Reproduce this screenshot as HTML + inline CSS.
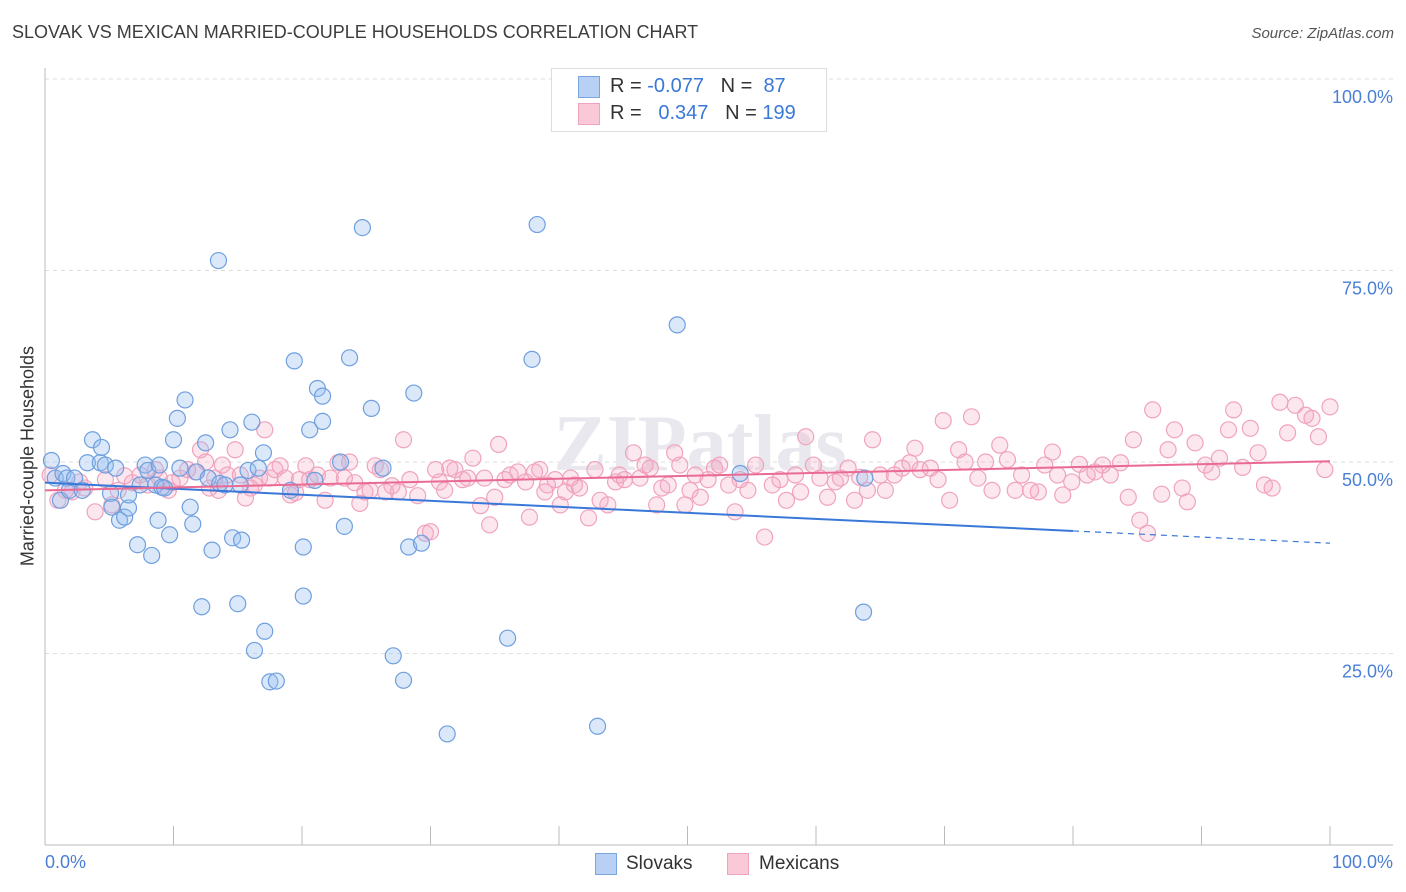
<!DOCTYPE html>
<html><head><meta charset="utf-8"><style>
body{margin:0;width:1406px;height:892px;background:#fff;font-family:"Liberation Sans",sans-serif;overflow:hidden;position:relative}
.t{position:absolute;white-space:nowrap}
</style></head><body>
<div class="t" style="left:12px;top:22px;font-size:18px;color:#3d3d3d">SLOVAK VS MEXICAN MARRIED-COUPLE HOUSEHOLDS CORRELATION CHART</div>
<div class="t" style="right:12px;top:25px;font-size:15px;color:#555;font-style:italic">Source: ZipAtlas.com</div>
<svg id="chart" width="1406" height="892" style="position:absolute;left:0;top:0"></svg>
<script>
const blueX=[0.5,0.8,1.2,1.4,1.7,1.9,2.3,2.9,3.3,3.7,4.3,4.4,4.7,5.1,5.2,5.5,5.8,6.2,6.5,7.2,7.4,7.8,8.0,8.3,8.6,8.8,9.1,9.3,9.7,10.0,10.3,10.5,10.9,11.3,11.5,11.8,12.2,12.5,12.7,13.0,13.5,13.6,14.0,14.4,14.6,15.0,15.3,15.8,16.1,16.3,16.6,17.0,17.1,17.5,18.0,19.1,19.4,20.1,20.1,20.6,21.0,21.2,21.6,21.6,23.0,23.3,23.7,24.7,25.4,26.3,27.1,27.9,28.3,28.7,29.3,31.3,36.0,37.9,38.3,43.0,49.2,54.1,63.7,63.8,15.2,8.9,6.5];
const blueY=[50.2,47.9,45.0,48.5,47.9,46.3,47.9,46.3,49.9,52.9,49.9,51.9,49.6,45.9,44.1,49.2,42.4,42.8,44.0,39.2,47.0,49.6,48.9,37.8,47.0,42.4,46.7,46.6,40.5,52.9,55.7,49.2,58.1,44.1,41.9,48.7,31.1,52.5,47.9,38.5,76.3,47.2,47.0,54.2,40.1,31.5,39.8,48.9,55.2,25.4,49.2,51.2,27.9,21.3,21.4,46.3,63.2,38.9,32.5,54.2,47.6,59.6,58.6,55.3,50.0,41.6,63.6,80.6,57.0,49.2,24.7,21.5,38.9,59.0,39.4,14.5,27.0,63.4,81.0,15.5,67.9,48.5,30.4,47.9,47.0,49.6,45.7];
const pinkX=[0.4,1.0,1.6,2.1,2.7,3.1,3.9,4.7,5.2,5.7,6.2,6.8,7.4,8.0,8.6,8.9,9.6,9.9,10.5,11.1,11.7,12.1,12.5,12.8,13.2,13.5,13.8,14.2,14.8,15.2,15.6,16.0,16.3,16.7,17.1,17.5,17.9,18.3,18.7,19.1,19.5,19.8,20.3,20.6,21.2,21.8,22.2,22.8,23.3,23.7,24.1,24.5,24.9,25.3,25.7,26.1,26.5,27.0,27.5,27.9,28.4,29.0,29.6,30.0,30.4,30.7,31.1,31.5,31.9,32.5,32.9,33.3,33.9,34.2,34.6,35.0,35.3,35.8,36.2,36.8,37.4,37.7,38.1,38.5,38.9,39.1,39.7,40.1,40.5,40.9,41.2,41.6,42.3,42.8,43.2,43.8,44.4,44.7,45.1,45.8,46.3,46.7,47.1,47.6,48.0,48.5,49.0,49.4,49.8,50.2,50.6,51.0,51.6,52.1,52.5,53.2,53.7,54.1,54.7,55.3,56.0,56.6,57.2,57.7,58.4,58.8,59.2,59.8,60.3,60.9,61.5,61.9,62.5,63.0,63.4,64.0,64.4,65.0,65.4,66.1,66.7,67.3,67.7,68.1,68.9,69.5,69.9,70.4,71.1,71.6,72.1,72.6,73.2,73.7,74.3,74.9,75.5,76.0,76.7,77.3,77.8,78.4,78.8,79.2,79.9,80.5,81.1,81.7,82.3,82.9,83.7,84.3,84.7,85.2,85.8,86.2,86.9,87.4,87.9,88.5,88.9,89.5,90.3,90.8,91.4,92.1,92.5,93.2,93.8,94.4,94.9,95.5,96.1,96.7,97.3,98.1,98.6,99.1,99.6,100];
const pinkY=[48.3,45.0,46.3,46.1,47.4,46.6,43.5,47.7,44.4,46.3,48.2,47.3,48.3,47.0,49.0,47.9,46.3,47.3,47.9,49.0,48.7,51.6,50.0,46.6,47.9,46.3,49.6,48.3,51.6,48.3,45.3,46.6,47.0,47.9,54.2,47.9,49.0,49.5,47.9,45.7,46.0,47.7,49.5,47.7,48.3,45.0,47.9,49.9,47.9,50.0,47.3,44.6,46.1,46.3,49.5,49.0,46.1,46.9,46.1,52.9,47.7,45.6,40.7,40.9,49.0,47.4,46.3,49.2,49.0,47.7,47.9,50.5,44.3,47.9,41.8,45.4,52.3,47.7,48.3,48.7,47.4,42.8,48.7,49.0,46.1,47.0,47.7,44.4,46.1,47.9,47.0,46.6,42.7,49.0,45.0,44.4,47.4,48.3,47.7,51.2,47.9,49.6,49.2,44.4,46.6,47.0,51.2,49.6,44.4,46.3,48.3,45.4,47.7,49.2,49.6,47.0,43.5,47.7,46.3,49.6,40.2,47.0,47.7,45.0,48.3,46.1,53.3,49.6,47.9,45.4,47.4,47.9,49.2,45.0,48.0,46.3,52.9,48.3,46.3,48.3,49.2,49.9,51.8,49.0,49.2,47.7,55.4,45.0,51.6,50.0,55.9,47.9,50.0,46.3,52.2,50.3,46.3,48.3,46.3,46.1,49.6,51.3,48.3,45.7,47.4,49.7,48.3,48.7,49.6,48.3,49.9,45.4,52.9,42.4,40.7,56.8,45.8,51.6,54.2,46.6,44.8,52.5,49.6,48.7,50.5,54.2,56.8,49.3,54.4,51.2,47.0,46.6,57.8,53.8,57.4,56.1,55.7,53.3,49.0,57.2];
const blueTrendX=[0,80,100];
const blueTrendY=[47.3,41.0,39.4];
const pinkTrendX=[0,100];
const pinkTrendY=[46.3,50.1];
const yTicks=[25,50,75,100];
const yTickLabels=["25.0%","50.0%","75.0%","100.0%"];

const X0=45,X1=1330,Y0=845,YS=7.66;
function sx(v){return X0+(X1-X0)*v/100;}
function sy(v){return Y0-YS*v;}
const NS="http://www.w3.org/2000/svg";
const svg=document.getElementById('chart');
function mk(tag,attrs,parent){const e=document.createElementNS(NS,tag);for(const k in attrs)e.setAttribute(k,attrs[k]);(parent||svg).appendChild(e);return e;}

// gridlines
mk('line',{x1:45,y1:79,x2:1393,y2:79,stroke:'#ddd','stroke-dasharray':'4,4'});
yTicks.forEach((t,i)=>{
  const g=mk('line',{x1:45,y1:sy(t),x2:1393,y2:sy(t),stroke:'#ddd','stroke-dasharray':'4,4'});
  
  
  const tx=mk('text',{x:1393,y:sy(t)+24,'text-anchor':'end','font-size':18,fill:'#4a7fd6','font-family':'Liberation Sans'});
  tx.textContent=yTickLabels[i];
  
  
});
// axes
const ya=mk('line',{x1:45,y1:68,x2:45,y2:845,stroke:'#bbb'});


const xa=mk('line',{x1:45,y1:845,x2:1393,y2:845,stroke:'#bbb'});


for(let i=0;i<=10;i++){
  const tk=mk('line',{x1:sx(i*10),y1:826,x2:sx(i*10),y2:845,stroke:'#bbb'});
  
  
}
// watermark
const wm=mk('text',{x:700,y:470,'text-anchor':'middle','font-size':80,fill:'#e8e8ee','font-family':'Liberation Serif','font-weight':'bold'});
wm.textContent='ZIPatlas';



// points
pinkX.forEach((x,i)=>{
  const c=mk('circle',{cx:sx(x),cy:sy(pinkY[i]),r:8,fill:'rgba(246,170,196,0.28)',stroke:'#f0a3bd','stroke-width':1.2});
  
  
});
blueX.forEach((x,i)=>{
  const c=mk('circle',{cx:sx(x),cy:sy(blueY[i]),r:8,fill:'rgba(150,190,240,0.35)',stroke:'#6f9fde','stroke-width':1.2});
  
  
});
// trend lines
const bt1=mk('line',{x1:sx(blueTrendX[0]),y1:sy(blueTrendY[0]),x2:sx(blueTrendX[1]),y2:sy(blueTrendY[1]),stroke:'#3a78d8','stroke-width':2});


const bt2=mk('line',{x1:sx(blueTrendX[1]),y1:sy(blueTrendY[1]),x2:sx(blueTrendX[2]),y2:sy(blueTrendY[2]),stroke:'#3a78d8','stroke-width':1.2,'stroke-dasharray':'6,5'});


const pt=mk('line',{x1:sx(pinkTrendX[0]),y1:sy(pinkTrendY[0]),x2:sx(pinkTrendX[1]),y2:sy(pinkTrendY[1]),stroke:'#e96b93','stroke-width':2});


</script>
<div class="t" style="left:28px;top:456px;transform:translate(-50%,-50%) rotate(-90deg);font-size:18px;color:#333">Married-couple Households</div>
<div class="t" style="left:45px;top:852px;font-size:18px;color:#4a7fd6">0.0%</div>
<div class="t" style="right:13px;top:852px;font-size:18px;color:#4a7fd6">100.0%</div>
<div style="position:absolute;left:551px;top:68px;width:274px;height:62px;border:1px solid #ddd;background:#fff;font-size:20px;color:#333">
  <div style="position:absolute;left:26px;top:7px;width:20px;height:20px;background:#b7d0f3;border:1px solid #7aa6e0"></div>
  <div class="t" style="left:58px;top:6px">R = <span style="color:#3a78d8">-0.077</span>&nbsp;&nbsp;&nbsp;N = &nbsp;<span style="color:#3a78d8">87</span></div>
  <div style="position:absolute;left:26px;top:34px;width:20px;height:20px;background:#f9c9d7;border:1px solid #f0a3bd"></div>
  <div class="t" style="left:58px;top:33px">R = &nbsp;&nbsp;<span style="color:#3a78d8">0.347</span>&nbsp;&nbsp;&nbsp;N = <span style="color:#3a78d8">199</span></div>
</div>
<div style="position:absolute;left:595px;top:853px;width:20px;height:20px;background:#b7d0f3;border:1px solid #7aa6e0"></div>
<div class="t" style="left:626px;top:853px;font-size:19px;color:#333">Slovaks</div>
<div style="position:absolute;left:727px;top:853px;width:20px;height:20px;background:#f9c9d7;border:1px solid #f0a3bd"></div>
<div class="t" style="left:759px;top:853px;font-size:19px;color:#333">Mexicans</div>
</body></html>
